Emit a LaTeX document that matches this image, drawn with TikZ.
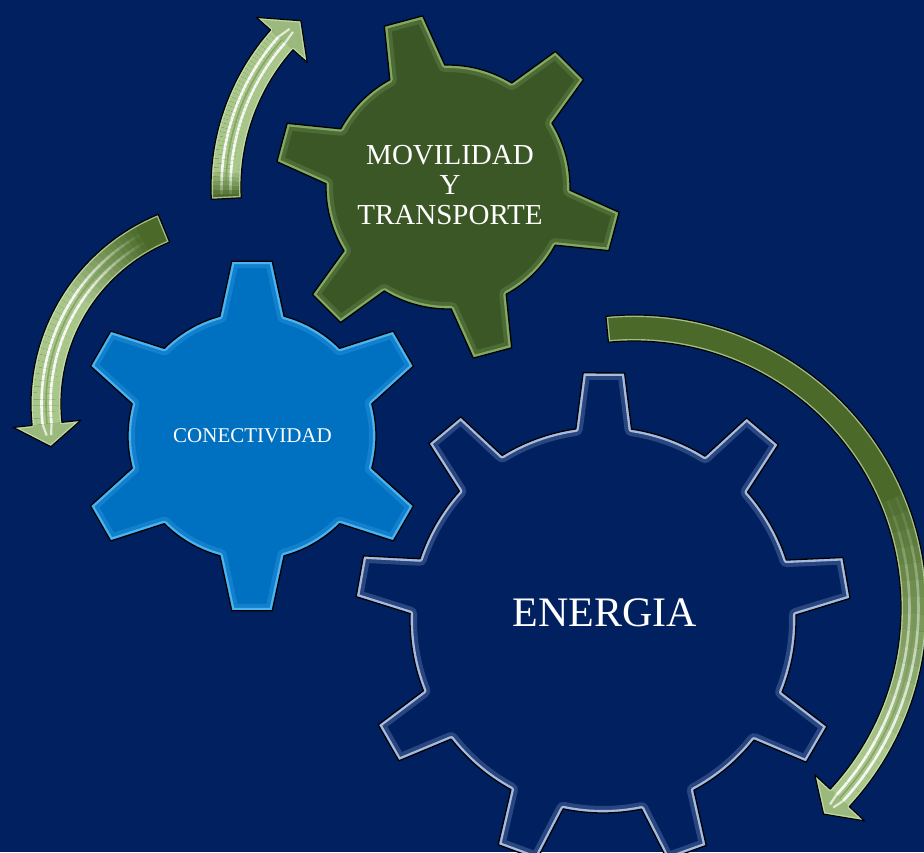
\documentclass[tikz,border=0pt]{standalone}
\usepackage{fontspec}
\setmainfont{Liberation Serif}
\usetikzlibrary{calc}
\definecolor{bg}{HTML}{002060}
\definecolor{gearGreen}{HTML}{3B5726}
\definecolor{gearGreenRim}{HTML}{8CB46C}
\definecolor{gearBlue}{HTML}{0070C0}
\definecolor{gearBlueRim}{HTML}{55BDF8}
\definecolor{gearNavy}{HTML}{002060}
\definecolor{gearNavyRim}{HTML}{BCD0F0}
\definecolor{arrowdark}{HTML}{4B6A2A}
\definecolor{arrowlight}{HTML}{A9C78B}
\definecolor{arrowgroove}{HTML}{6F8F50}
\definecolor{arrowrim}{HTML}{D2E8BE}

% gear outline: #1 options, #2 teeth, #3 start angle, #4 body radius, #5 outer radius, #6 base half angle, #7 tip half angle
\newcommand\gearshape[7]{%
  \path[#1] ({#3-#6}:#4pt)
    \foreach \k in {1,...,#2}{
      -- ({#3+(\k-1)*360/#2-#6}:#4pt)
      -- ({#3+(\k-1)*360/#2-#7}:#5pt)
      -- ({#3+(\k-1)*360/#2+#7}:#5pt)
      -- ({#3+(\k-1)*360/#2+#6}:#4pt)
      arc[start angle={#3+(\k-1)*360/#2+#6}, delta angle={360/#2-2*#6}, radius=#4pt]
    } -- cycle;}

% #1 fill, #2 rim colour, #3 centre, #4..#9 as above
\newcommand\drawgear[9]{%
  \begin{scope}[shift={#3}]
    \gearshape{fill=#1}{#4}{#5}{#6}{#7}{#8}{#9}
    \begin{scope}
      \gearshape{clip}{#4}{#5}{#6}{#7}{#8}{#9}
      \gearshape{draw=#2,line width=14pt,opacity=0.22,line join=round}{#4}{#5}{#6}{#7}{#8}{#9}
      \gearshape{draw=#2,line width=6pt,opacity=0.85,line join=round}{#4}{#5}{#6}{#7}{#8}{#9}
    \end{scope}
    \gearshape{draw=black,line width=1.3pt,line join=round}{#4}{#5}{#6}{#7}{#8}{#9}
  \end{scope}}

% circular block arrow: #1,#2 centre, #3 radius, #4 half width, #5 tail angle, #6 head base angle, #7 tip angle, #8,#9 light ramp
\newcommand\greenarrow[9]{%
  \begin{scope}[shift={(#1,#2)}]
    \pgfmathsetmacro\ro{#3+#4}\pgfmathsetmacro\ri{#3-#4}%
    \pgfmathsetmacro\bo{#3+34}\pgfmathsetmacro\bi{#3-34}%
    \pgfmathsetmacro\lw{2*#4}%
    \pgfmathsetmacro\rs{#3+4.5}\pgfmathsetmacro\rt{#3-4.5}%
    \def\arrowpath{(#5:\ri pt) -- (#5:\ro pt) arc[start angle=#5, end angle=#6, radius=\ro pt] -- (#6:\bo pt) -- (#7:#3pt) -- (#6:\bi pt) -- (#6:\ri pt) arc[start angle=#6, end angle=#5, radius=\ri pt] -- cycle}%
    \fill[arrowdark] \arrowpath;
    \begin{scope}
      \clip \arrowpath;
      \foreach \i in {0,...,39}{
        \pgfmathsetmacro\sa{#5+(#6-#5)*\i/40}
        \pgfmathsetmacro\ea{#5+(#6-#5)*(\i+1)/40}
        \pgfmathsetmacro\op{min(1,max(0,(\i/40-#8)/(#9-#8)))}
        \draw[arrowlight, line width=\lw pt, opacity=\op] (\sa:#3pt) arc[start angle=\sa, end angle=\ea, radius=#3pt];
        \draw[arrowgroove, line width=1.6pt, opacity=0.6*\op] (\sa:#3pt) arc[start angle=\sa, end angle=\ea, radius=#3pt];
        \draw[white, line width=2.6pt, opacity=0.9*\op] (\sa:\rs pt) arc[start angle=\sa, end angle=\ea, radius=\rs pt];
        \draw[white, line width=2.6pt, opacity=0.9*\op] (\sa:\rt pt) arc[start angle=\sa, end angle=\ea, radius=\rt pt];
      }
      \fill[arrowlight!85!arrowdark] (#6:\bo pt) -- (#7:#3pt) -- (#6:\bi pt) -- cycle;
      \draw[white, line width=2.2pt, opacity=0.7] (#6:\rs pt) -- ($(#6:\rs pt)!0.5!(#7:#3pt)$);
      \draw[white, line width=2.2pt, opacity=0.7] (#6:\rt pt) -- ($(#6:\rt pt)!0.5!(#7:#3pt)$);
      \draw[arrowrim, line width=4pt, opacity=0.65, line join=round] \arrowpath;
    \end{scope}
    \draw[black, line width=1.2pt, line join=round] \arrowpath;
  \end{scope}}

\begin{document}
\begin{tikzpicture}[x=1pt,y=1pt]
  \useasboundingbox (0,0) rectangle (924,852);
  \fill[bg] (0,0) rectangle (924,852);

  % gears
  \drawgear{gearGreen}{gearGreenRim}{(448,665)}{6}{-15}{122}{173}{13.5}{6.6}
  \drawgear{gearBlue}{gearBlueRim}{(252,416)}{6}{30}{124}{176}{15}{6.6}
  \drawgear{gearNavy}{gearNavyRim}{(603,232)}{9}{9.8}{193}{248}{8.3}{4.8}

  % arrows
  \greenarrow{448}{665}{222}{15}{183}{138.5}{131.5}{0}{0.15}
  \greenarrow{236}{448}{190}{15}{112.3}{186}{193}{0.08}{0.45}
  \greenarrow{634}{244}{280}{13}{95.5}{-42.7}{-47.4}{0.5}{0.9}

  % labels
  \node[text=white, align=center, font=\fontsize{29}{30}\selectfont] (movilidad) at (450,667) {MOVILIDAD\\Y\\TRANSPORTE};
  \node[text=white, font=\fontsize{21}{25}\selectfont] (conectividad) at (252.5,416) {CONECTIVIDAD};
  \node[text=white, font=\fontsize{42}{50}\selectfont] (energia) at (605,239) {ENERGIA};
\end{tikzpicture}
\end{document}
